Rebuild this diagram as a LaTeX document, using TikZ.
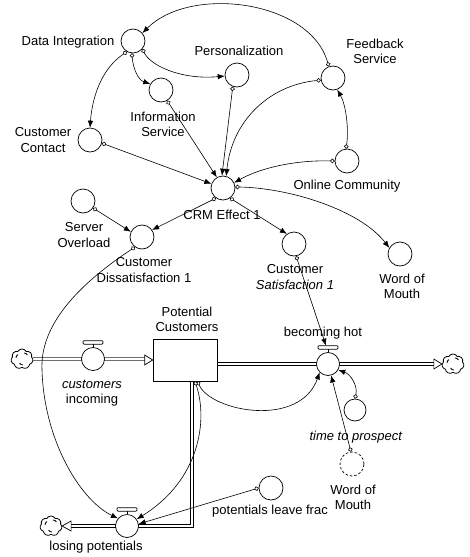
\documentclass[tikz,border=0pt]{standalone}
\usepackage{fontspec}
\setmainfont{Liberation Sans}
\usetikzlibrary{arrows.meta,shapes.symbols,calc}
\pgfdeclarelayer{bg}
\pgfsetlayers{bg,main}
\newcommand\labfont{\fontsize{13}{15.5}\selectfont}
\begin{document}
\begin{tikzpicture}[x=1pt,y=-1pt,
  aux/.style={circle,draw,line width=0.7pt,minimum size=24pt,inner sep=0pt},
  valve/.style={circle,draw,fill=white,line width=0.7pt,minimum size=23pt,inner sep=0pt},
  sky/.style={cloud,cloud puffs=7,cloud puff arc=120,aspect=1.1,draw,line width=0.8pt,minimum width=22pt,minimum height=20pt,inner sep=0pt,fill=white},
  stock/.style={rectangle,draw,line width=0.7pt,minimum width=64pt,minimum height=42pt,inner sep=0pt},
  link/.style={line width=0.6pt,{Circle[fill=white,length=4.5pt,width=4.5pt]}-{Latex[length=7pt,width=5.5pt]}},
  pipe/.style={double,double distance=2.2pt,line width=0.6pt},
  handle/.style={fill=white,rounded corners=1pt,line width=0.7pt},
  tri/.style={fill=white,line width=0.7pt},
  lbl/.style={font=\labfont,inner sep=0pt,align=center},
]
\useasboundingbox (0,0) rectangle (470,557);

% auxiliaries
\node[aux] (di) at (133,41) {};
\node[aux] (pers) at (237,75) {};
\node[aux] (fb) at (333,78) {};
\node[aux] (oc) at (347,161) {};
\node[aux] (is) at (161,90) {};
\node[aux] (cc) at (90,140) {};
\node[aux] (crm) at (223,188) {};
\node[aux] (so) at (83,201) {};
\node[aux] (cd) at (142,237) {};
\node[aux] (cs) at (294,244) {};
\node[aux] (wom) at (400,254) {};
\node[aux,minimum size=22pt] (ttp) at (355,410) {};
\node[aux,dashed,dash pattern=on 2.5pt off 2pt] (womg) at (352,464) {};
\node[aux] (plf) at (271,488) {};

% stock, valves, clouds
\node[stock] (pc) at (185,360) {};
\node[sky] (srcL) at (22,359) {};
\node[sky] (sinkR) at (453,364) {};
\node[sky] (sinkB) at (51,526) {};
\foreach \c in {srcL,sinkR,sinkB}{
  \draw[line width=0.8pt] ($(\c.center)+(-6,-1)$) arc (180:240:4);
  \draw[line width=0.8pt] ($(\c.center)+(2,-6)$) arc (270:330:4);
  \draw[line width=0.8pt] ($(\c.center)+(1,6)$) arc (90:150:4);
}
\node[valve] (ci) at (93,359) {};
\node[valve] (bh) at (328,364) {};
\node[valve] (lp) at (127,526) {};
\foreach \w in {ci,bh,lp}{
  \draw[line width=0.7pt] (\w.north) -- ++(0,-3);
  \draw[handle] ($(\w.north)+(-10,-3)$) rectangle ($(\w.north)+(10,-6.5)$);
}
\coordinate (bhtop) at ($(bh.north)+(-2,-6.5)$);
\coordinate (pcR) at (217,364);
\coordinate (pcout) at (192,381);
\coordinate (pcturn) at (192,526);
\coordinate (srcLend) at (145,359);
\coordinate (sinkRend) at (434,364);
\coordinate (sinkBend) at (71,526);

% pipes
\begin{pgfonlayer}{bg}
\draw[pipe] (srcL.east) -- (srcLend);
\draw[pipe] (pcR) -- (sinkRend);
\draw[pipe] (pcout) -- (pcturn) -- (sinkBend);
\end{pgfonlayer}
\draw[tri] (pc.west) -- ++(-8,-5) -- ++(0,10) -- cycle;
\draw[tri] (sinkR.west) -- ++(-8,-5) -- ++(0,10) -- cycle;
\draw[tri] (sinkB.east) -- ++(9,-5) -- ++(0,10) -- cycle;

% links
\draw[link] (fb.110) .. controls (310,0) and (190,-15) .. (di.40);
\draw[link] (di.-40) .. controls (150,65) and (180,80) .. (pers.185);
\draw[link] (di.-95) .. controls (133,68) and (138,80) .. (is.150);
\draw[link] (di.-120) .. controls (100,70) and (92,100) .. (cc.90);
\draw[link] (pers.-110) -- (crm.95);
\draw[link] (fb.190) .. controls (270,85) and (232,120) .. (crm.75);
\draw[link] (oc.95) .. controls (349,130) and (346,105) .. (fb.-70);
\draw[link] (oc.180) .. controls (295,160) and (260,168) .. (crm.25);
\draw[link] (is.-60) -- (crm.120);
\draw[link] (cc.-15) -- (crm.160);
\draw[link] (crm.-125) -- (cd.35);
\draw[link] (so.-35) -- (cd.155);
\draw[link] (crm.-55) -- (cs.125);
\draw[link] (crm.5) .. controls (290,188) and (360,210) .. (wom.150);
\draw[link] (cs.-80) -- (bhtop);
\draw[link] (cd.-125) .. controls (70,290) and (40,330) .. (42,370) .. controls (44,440) and (80,500) .. (lp.140);
\draw[link] (pc.-60) .. controls (212,412) and (300,428) .. (bh.-135);
\draw[link] (pc.-65) .. controls (208,420) and (200,480) .. (lp.35);
\draw[link] (plf.180) -- (lp.10);
\draw[link] (ttp.90) .. controls (358,385) and (350,374) .. (bh.-30);
\draw[link] (womg.95) -- (bh.-75);

% labels
\node[lbl,anchor=base] (ldi) at (68,45) {Data Integration};
\node[lbl,anchor=base] (lpers) at (239,55) {Personalization};
\node[lbl,anchor=north] (lfb) at (375,38.6) {Feedback\\Service};
\node[lbl,anchor=north] (lis) at (163,111.6) {Information\\Service};
\node[lbl,anchor=north] (lcc) at (43,127.6) {Customer\\Contact};
\node[lbl,anchor=base] (loc) at (347,189) {Online Community};
\node[lbl,anchor=base] (lcrm) at (222,219) {CRM Effect 1};
\node[lbl,anchor=north] (lso) at (84,222.6) {Server\\Overload};
\node[lbl,anchor=north] (lcd) at (144,257.6) {Customer\\Dissatisfaction 1};
\node[lbl,anchor=north] (lcs) at (295,264.6) {Customer\\\textit{Satisfaction 1}};
\node[lbl,anchor=north] (lwom) at (402,273.6) {Word of\\Mouth};
\node[lbl,anchor=north] (lpc) at (187,306.6) {Potential\\Customers};
\node[lbl,anchor=north] (lci) at (92,379.4) {\textit{customers}\\incoming};
\node[lbl,anchor=base] (lbh) at (323,336) {becoming hot};
\node[lbl,anchor=base] (lttp) at (356,440) {\textit{time to prospect}};
\node[lbl,anchor=north] (lwomg) at (353,484.6) {Word of\\Mouth};
\node[lbl,anchor=base west] (lplf) at (212,514) {potentials leave frac};
\node[lbl,anchor=base] (llp) at (96,550) {losing potentials};
\end{tikzpicture}
\end{document}
